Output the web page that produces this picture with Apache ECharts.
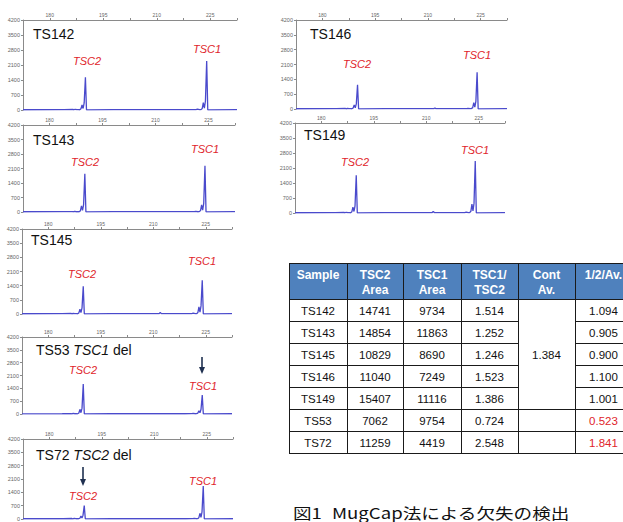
<!DOCTYPE html>
<html><head><meta charset="utf-8">
<script src="https://cdn.jsdelivr.net/npm/echarts@6/dist/echarts.min.js"></script>
<style>html,body{margin:0;padding:0;background:#fff}#c{width:623px;height:522px}</style>
</head><body><div id="c"></div><script>
// ---- data ----
const xTickLabels = [180, 195, 210, 225];
const xMinorTicks = [180, 187.5, 195, 202.5, 210, 217.5, 225, 232.5];
const xs = [172.5, 184.0, 186.5, 186.8, 187.1, 187.6, 188.0, 188.4, 188.75, 189.05, 189.35, 189.65, 190.0, 190.3, 198.0,
            211.7, 212.0, 212.3, 219.0, 221.0, 221.4, 222.0, 222.4, 222.75, 223.05, 223.35, 223.65, 224.0, 224.3, 232.5];
const ts142 = [12,14,28,10,34,14,18,12,60,236,70,330,1530,10,14,14,22,14,14,20,38,14,18,70,345,90,420,2290,10,14];
const ts143 = [12,14,22,12,30,12,18,12,60,293,80,360,1840,10,14,14,20,14,14,18,34,12,18,70,342,90,420,2230,10,14];
const ts145 = [12,14,25,10,30,14,18,12,55,244,70,300,1373,10,14,20,80,20,14,20,38,14,18,70,356,90,400,1664,10,14];
const ts53  = [12,14,25,10,30,14,18,12,55,256,70,320,1630,10,14,14,22,14,14,20,34,14,18,50,180,70,260,1030,10,14];
const ts72  = [12,14,25,10,30,14,18,12,40,150,50,200,700,10,14,14,22,14,14,20,34,14,18,70,300,90,380,1730,10,14];
const ts146 = [12,14,25,10,30,14,18,12,45,190,55,240,1145,10,14,16,45,16,14,20,34,14,18,65,300,85,360,1733,10,14];
const ts149 = [12,14,28,10,34,14,18,12,60,270,70,330,1762,10,14,20,70,20,14,20,40,14,18,80,410,100,460,2422,10,14];
const traces = [ts142, ts143, ts145, ts53, ts72, ts146, ts149];
const panelNames = ['TS142', 'TS143', 'TS145', 'TS53', 'TS72', 'TS146', 'TS149'];
const delGene = [null, null, null, 'TSC1', 'TSC2', null, null];
const geneLabels = ['TSC2', 'TSC1'];

const samples  = ['TS142', 'TS143', 'TS145', 'TS146', 'TS149', 'TS53', 'TS72'];
const tsc2Area = [14741, 14854, 10829, 11040, 15407, 7062, 11259];
const tsc1Area = [9734, 11863, 8690, 7249, 11116, 9754, 4419];
const ratio    = ['1.514', '1.252', '1.246', '1.523', '1.386', '0.724', '2.548'];
const contAv   = '1.384';
const halfAv   = ['1.094', '0.905', '0.900', '1.100', '1.001', '0.523', '1.841'];
const halfAvOutlier = [false, false, false, false, false, true, true];
const headers  = [['Sample'], ['TSC2', 'Area'], ['TSC1', 'Area'], ['TSC1/', 'TSC2'], ['Cont', 'Av.'], ['1/2/Av.']];
const captionNum = '図1';
const captionText = 'MugCap法による欠失の検出';

// ---- layout ----
const grids = [
  {left: 23, top: 20, width: 214, height: 90},
  {left: 23, top: 125, width: 212, height: 87},
  {left: 22, top: 229, width: 210, height: 85},
  {left: 22, top: 337, width: 210, height: 77},
  {left: 23, top: 439, width: 210, height: 85},
  {left: 296, top: 20, width: 211, height: 89},
  {left: 295, top: 123, width: 210, height: 90}
];
const nameLayout = [[33, 34], [33, 140], [31, 240], [36, 350], [36, 455], [310, 34], [304, 135]];
const tsc2Layout = [[87, 61], [85, 162], [82, 274], [83, 370], [83, 496], [357, 64], [355, 162]];
const tsc1Layout = [[207, 49], [205, 149], [202, 261], [203, 386], [203, 481], [477, 55], [475, 150]];
const arrowLayout = [null, null, null, [202, 357, 374], [83, 467, 486], null, null];

const RED = '#e0242a', NAVY = '#1f3050', LINE = '#4a4acc';
const AX = '#8a8a8a';
const nameFont = '14px "Liberation Sans", Arial, sans-serif';
const geneFont = 'italic 11px "Liberation Sans Narrow", "Liberation Sans", sans-serif';

const option = {
  animation: false,
  backgroundColor: '#fff',
  grid: grids.map(g => Object.assign({containLabel: false}, g)),
  xAxis: grids.map((g, i) => ({
    type: 'value', gridIndex: i, position: 'top', min: 172.5, max: 232.5,
    axisLine: {show: true, onZero: false, lineStyle: {color: AX, width: 1}},
    axisTick: {show: true, length: 2, customValues: xMinorTicks, lineStyle: {color: AX}},
    axisLabel: {show: true, customValues: xTickLabels, fontSize: 5, color: '#666', margin: 3, fontFamily: 'Liberation Sans', formatter: v => String(v)},
    splitLine: {show: false}
  })),
  yAxis: grids.map((g, i) => ({
    type: 'value', gridIndex: i, min: 0, max: 4200, interval: 700,
    axisLine: {show: true, lineStyle: {color: AX, width: 1}},
    axisTick: {show: true, length: 2, lineStyle: {color: AX}},
    axisLabel: {show: true, fontSize: 5.5, color: '#666', margin: 3, fontFamily: 'Liberation Sans', formatter: v => String(v)},
    splitLine: {show: false}
  })),
  series: traces.map((t, i) => ({
    type: 'line', xAxisIndex: i, yAxisIndex: i, symbol: 'none', smooth: false, clip: true,
    lineStyle: {color: LINE, width: 1.3},
    data: xs.map((x, k) => [x, t[k]])
  })),
  graphic: []
};

const G = option.graphic;
// panel texts
panelNames.forEach((n, i) => {
  const [x, y] = nameLayout[i];
  if (delGene[i]) {
    G.push({type: 'text', silent: true, style: {
      x, y, text: '{a|' + n + ' }{b|' + delGene[i] + '}{a| del}', verticalAlign: 'middle', align: 'left',
      rich: {a: {font: nameFont, fill: '#111'}, b: {font: 'italic ' + nameFont, fill: '#111'}}
    }});
  } else {
    G.push({type: 'text', silent: true, style: {x, y, text: n, font: nameFont, fill: '#111', verticalAlign: 'middle'}});
  }
  [tsc2Layout[i], tsc1Layout[i]].forEach((p, j) => {
    G.push({type: 'text', silent: true, style: {x: p[0], y: p[1], text: geneLabels[j], font: geneFont, fill: RED, align: 'center', verticalAlign: 'middle'}});
  });
  const a = arrowLayout[i];
  if (a) {
    G.push({type: 'line', silent: true, shape: {x1: a[0], y1: a[1], x2: a[0], y2: a[2] - 5}, style: {stroke: NAVY, lineWidth: 1.6}});
    G.push({type: 'polygon', silent: true, shape: {points: [[a[0] - 3, a[2] - 7], [a[0] + 3, a[2] - 7], [a[0], a[2]]]}, style: {fill: NAVY}});
  }
});

// table
const colX = [289, 347, 403, 461, 518, 575, 632];
const hTop = 263, hBot = 299, rowH = 22;
const nRows = samples.length;
const tBot = hBot + rowH * nRows;
const bodyFont = '11.5px "Liberation Sans Narrow", "Liberation Sans", sans-serif';
const headFont = 'bold 12px "Liberation Sans Narrow", "Liberation Sans", sans-serif';
G.push({type: 'rect', silent: true, shape: {x: colX[0], y: hTop, width: colX[6] - colX[0], height: hBot - hTop}, style: {fill: '#4f81bd'}});
headers.forEach((h, c) => {
  const cx = (colX[c] + colX[c + 1]) / 2;
  h.forEach((line, k) => {
    G.push({type: 'text', silent: true, style: {x: cx, y: 274.5 + k * 15, text: line, font: headFont, fill: '#fff', align: 'center', verticalAlign: 'middle'}});
  });
});
const cols = [samples, tsc2Area, tsc1Area, ratio, null, halfAv];
for (let r = 0; r < nRows; r++) {
  const cy = hBot + rowH * r + rowH / 2 + 0.5;
  cols.forEach((col, c) => {
    if (!col) return;
    const cx = (colX[c] + colX[c + 1]) / 2;
    const fill = (c === 5 && halfAvOutlier[r]) ? RED : '#111';
    G.push({type: 'text', silent: true, style: {x: cx, y: cy, text: String(col[r]), font: bodyFont, fill, align: 'center', verticalAlign: 'middle'}});
  });
}
G.push({type: 'text', silent: true, style: {x: (colX[4] + colX[5]) / 2, y: hBot + rowH * 2.5 + 0.5, text: contAv, font: bodyFont, fill: '#111', align: 'center', verticalAlign: 'middle'}});
// borders
const ln = (x1, y1, x2, y2) => G.push({type: 'line', silent: true, shape: {x1, y1, x2, y2}, style: {stroke: '#1a1a1a', lineWidth: 1}});
ln(colX[0], hTop + 0.5, colX[6], hTop + 0.5);
for (let r = 0; r <= nRows; r++) {
  const y = hBot + rowH * r + 0.5;
  if (r >= 1 && r <= 4) {
    ln(colX[0], y, colX[4], y);
    ln(colX[5], y, colX[6], y);
  } else {
    ln(colX[0], y, colX[6], y);
  }
}
colX.forEach(x => ln(x + 0.5, hTop, x + 0.5, tBot + 0.5));

// caption
const capFont = '15px "Noto Sans CJK JP", sans-serif';
G.push({type: 'text', silent: true, x: 293, y: 512, scaleX: 1.24, style: {x: 0, y: 0, text: captionNum, font: capFont, fill: '#111', verticalAlign: 'middle'}});
G.push({type: 'text', silent: true, x: 332, y: 512, scaleX: 1.24, style: {x: 0, y: 0, text: captionText, font: capFont, fill: '#111', verticalAlign: 'middle'}});

const chart = echarts.init(document.getElementById('c'), null, {renderer: 'svg', width: 623, height: 522});
chart.setOption(option);
</script></body></html>
